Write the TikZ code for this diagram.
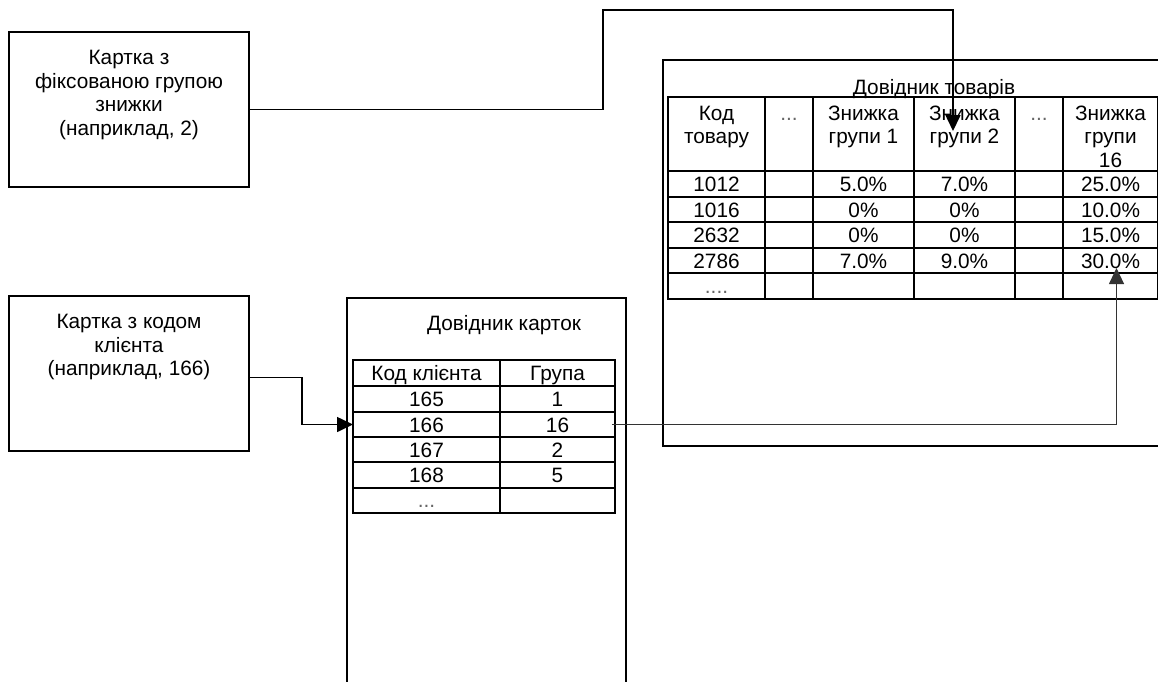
\documentclass[tikz,border=0pt]{standalone}
\usepackage{fontspec}
\setmainfont{Liberation Sans}
\usetikzlibrary{arrows.meta}
\begin{document}
\begin{tikzpicture}[x=1pt,y=-1pt,
  box/.style={draw, line width=1.5pt, inner sep=0pt},
  tbl/.style={line width=1.6pt},
  txt/.style={inner sep=0pt, font=\fontsize{20.8}{23.5}\selectfont, align=center},
  dots/.style={txt, text=black!60},
  conn/.style={line width=1.6pt},
  thinconn/.style={line width=1pt, draw=black!80},
  tipped/.style={-{Triangle[length=16pt,width=15pt]}}
]
\useasboundingbox (0,0) rectangle (1158,681);
\clip (0,0) rectangle (1158,681);

% ---- left cards
\node[box, minimum width=240pt, minimum height=155pt] (box1) at (129,109.5) {};
\node[txt, anchor=north] (box1t) at (129,50) {Картка з\\фіксованою групою\\знижки\\(наприклад, 2)};
\node[box, minimum width=240pt, minimum height=155pt] (box2) at (129,373.5) {};
\node[txt, anchor=north] (box2t) at (129,314) {Картка з кодом\\клієнта\\(наприклад, 166)};

% ---- card directory
\node[box, minimum width=279pt, minimum height=402pt] (cards) at (486.5,499) {};
\node[txt, anchor=base] (cardsT) at (504,330.5) {Довідник карток};
\draw[tbl] (353,360) rectangle (615,513);
\foreach \yy in {386,412,437,462,488} \draw[tbl] (353,\yy) -- (615,\yy);
\draw[tbl] (500,360) -- (500,513);
\node[txt, anchor=base] (ch1) at (426.5,380.5) {Код клієнта};
\node[txt, anchor=base] (ch2) at (557.5,380.5) {Група};
\node[txt, anchor=base] (c165) at (426.5,406.5) {165};
\node[txt, anchor=base] (g165) at (557.5,406.5) {1};
\node[txt, anchor=base] (c166) at (426.5,432) {166};
\node[txt, anchor=base] (g166) at (557.5,432) {16};
\node[txt, anchor=base] (c167) at (426.5,457) {167};
\node[txt, anchor=base] (g167) at (557.5,457) {2};
\node[txt, anchor=base] (c168) at (426.5,482.5) {168};
\node[txt, anchor=base] (g168) at (557.5,482.5) {5};
\node[dots, anchor=base] (cdots) at (426.5,507) {...};

% ---- goods directory
\node[box, minimum width=512pt, minimum height=386pt] (goods) at (919,253) {};
\node[txt, anchor=base] (goodsT) at (934,94.5) {Довідник товарів};
\draw[tbl] (668,97) rectangle (1158,299);
\foreach \yy in {171,197,222,248,273} \draw[tbl] (668,\yy) -- (1158,\yy);
\foreach \xx in {765,813,914,1015,1063} \draw[tbl] (\xx,97) -- (\xx,299);
\node[txt, anchor=north] (h1) at (716.5,105.5) {Код\\товару};
\node[dots, anchor=base] (h2) at (789,120.5) {...};
\node[txt, anchor=north] (h3) at (863.5,105.5) {Знижка\\групи 1};
\node[txt, anchor=north] (h4) at (964.5,105.5) {Знижка\\групи 2};
\node[dots, anchor=base] (h5) at (1039,120.5) {...};
\node[txt, anchor=north] (h6) at (1110.5,105.5) {Знижка\\групи\\16};
\foreach \yy/\a/\b/\c/\d in {191.5/1012/5.0\%/7.0\%/25.0\%,
                             217/1016/0\%/0\%/10.0\%,
                             242.5/2632/0\%/0\%/15.0\%,
                             268/2786/7.0\%/9.0\%/30.0\%} {
  \node[txt, anchor=base] at (716.5,\yy) {\a};
  \node[txt, anchor=base] at (863.5,\yy) {\b};
  \node[txt, anchor=base] at (964.5,\yy) {\c};
  \node[txt, anchor=base] at (1110.5,\yy) {\d};
}
\node[dots, anchor=base] (gdots) at (716.5,293) {....};

% ---- connectors
\coordinate (turn1) at (603,10);
\coordinate (tip1) at (953,131);
\coordinate (bend2) at (302,424.5);
\coordinate (tip2) at (353,424.5);
\coordinate (src3) at (612,424);
\coordinate (tip3) at (1116.5,268);
\draw[conn, tipped] (box1.east) -| (turn1) -| (tip1);
\draw[conn, tipped] ([yshift=-4pt]box2.east) -| (bend2) -- (tip2);
\draw[thinconn, tipped] (src3) -| (tip3);
\end{tikzpicture}
\end{document}
